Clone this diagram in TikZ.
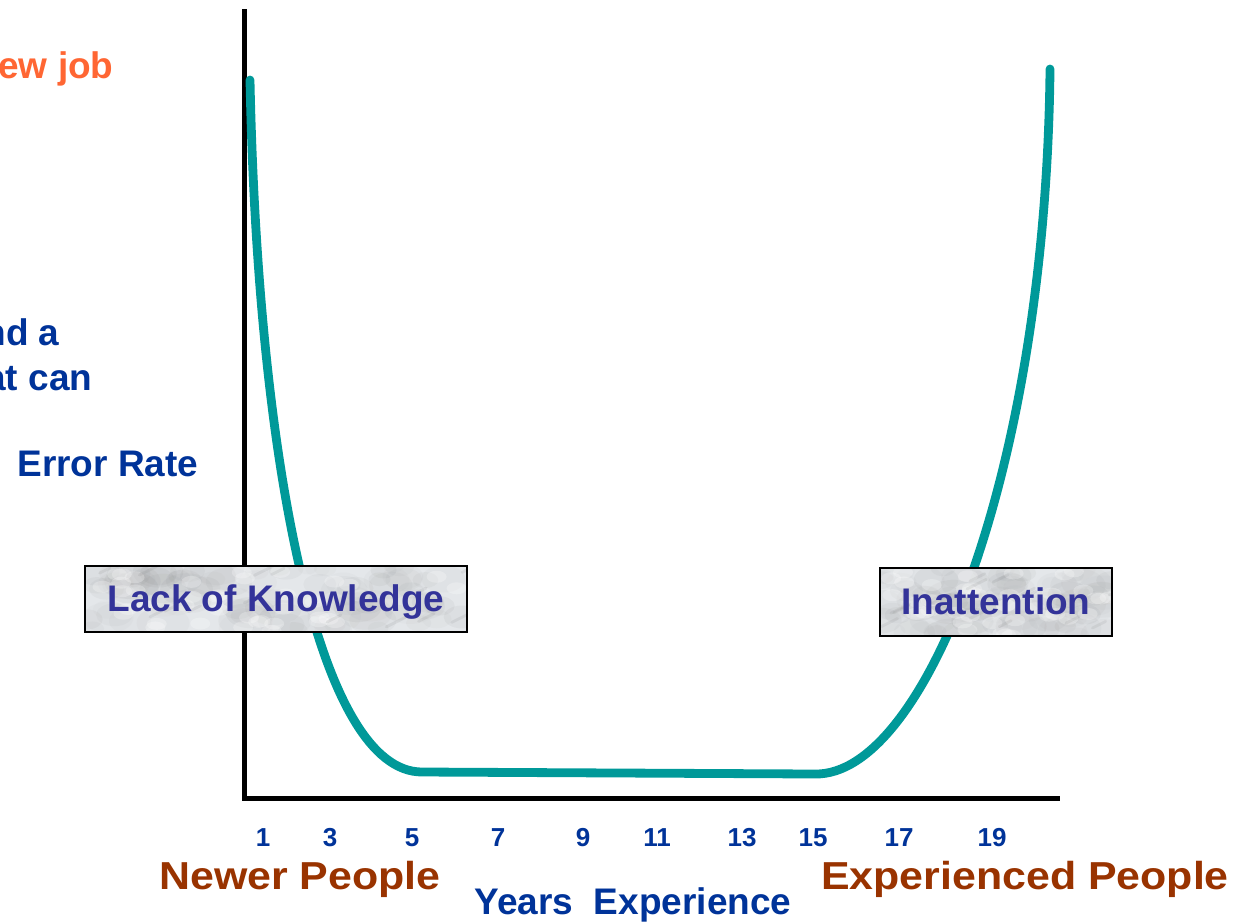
\documentclass[tikz,border=0pt]{standalone}
\usepackage{fontspec}
\setmainfont{Liberation Sans}
\usepackage{graphicx}
\usetikzlibrary{calc}
\definecolor{curveteal}{HTML}{009999}
\definecolor{joborange}{HTML}{FF6633}
\definecolor{labelblue}{HTML}{003399}
\definecolor{boxblue}{HTML}{333399}
\definecolor{peoplebrown}{HTML}{993300}
\definecolor{marblebase}{RGB}{228,231,234}
\begin{document}
\begin{tikzpicture}[x=0.5pt,y=-0.5pt,
  lbl/.style={font=\bfseries\fontsize{18.5pt}{22pt}\selectfont, text=labelblue, inner sep=0pt, anchor=base west},
  num/.style={font=\bfseries\fontsize{13pt}{15pt}\selectfont, text=labelblue, inner sep=0pt, anchor=base},
  people/.style={font=\bfseries\fontsize{19.5pt}{23pt}\selectfont, text=peoplebrown, inner sep=0pt, anchor=base},
  axisline/.style={line width=2.5pt, black},
  errcurve/.style={line width=4.4pt, curveteal, line cap=round, line join=round},
  tagbox/.style={draw=black, line width=1.4pt, fill=marblebase, inner sep=0pt,
    font=\bfseries\fontsize{18.5pt}{22pt}\selectfont, text=boxblue,
    text height=14pt, text depth=1.3pt,
    path picture={
      \foreach \k in {1,...,90}{
        \pgfmathsetmacro{\ux}{rnd}
        \pgfmathsetmacro{\uy}{rnd}
        \pgfmathsetmacro{\ur}{3+6*rnd}
        \pgfmathtruncatemacro{\ug}{30+40*rnd}
        \fill[black!\ug, opacity=0.05]
          let \p1=(path picture bounding box.south west), \p2=(path picture bounding box.north east) in
          ({\x1+\ux*(\x2-\x1)},{\y1+\uy*(\y2-\y1)}) ellipse[x radius=1.6*\ur pt, y radius=\ur pt];
      }
      \foreach \k in {1,...,40}{
        \pgfmathsetmacro{\ux}{rnd}
        \pgfmathsetmacro{\uy}{rnd}
        \fill[white, opacity=0.25]
          let \p1=(path picture bounding box.south west), \p2=(path picture bounding box.north east) in
          ({\x1+\ux*(\x2-\x1)},{\y1+\uy*(\y2-\y1)}) ellipse[x radius=5pt, y radius=3pt];
      }
      \foreach \k in {1,...,14}{
        \pgfmathsetmacro{\ux}{rnd}
        \pgfmathsetmacro{\uy}{rnd}
        \pgfmathsetmacro{\ul}{3+7*rnd}
        \draw[black!60, opacity=0.10, line width=1.4pt, line cap=round]
          let \p1=(path picture bounding box.south west), \p2=(path picture bounding box.north east) in
          ({\x1+\ux*(\x2-\x1)},{\y1+\uy*(\y2-\y1)}) -- ++({\ul*1pt},{0.5*\ul*1pt});
      }}}]
\pgfmathsetseed{7}
\useasboundingbox (0,0) rectangle (1240,921);

% axes
\coordinate (ytop) at (244,9);
\coordinate (origin) at (244,798.5);
\coordinate (xend) at (1060,798.5);
\draw[axisline] (ytop) -- (origin) -- (xend);

% error curve
\coordinate (cstart) at (250,80);
\coordinate (flatL) at (422,772);
\coordinate (flatR) at (815,774);
\coordinate (cend) at (1050,69);
\draw[errcurve] (cstart) .. controls (258,470) and (320,772) .. (flatL)
  -- (flatR) .. controls (925,776) and (1046,470) .. (cend);

% boxes
\node[tagbox, minimum width=191pt, minimum height=33pt] (knowledge) at (276,599) {Lack of Knowledge};
\node[tagbox, minimum width=116pt, minimum height=34pt] (inattention) at (996,602) {Inattention};

% left texts
\node[lbl, text=joborange] (job) at (-2,78) {ew job};
\node[lbl] (nda) at (-17,345) {nd a};
\node[lbl] (atcan) at (-15,390) {at can};
\node[lbl] (errrate) at (17,476) {Error Rate};

% year numbers
\node[num] (n1) at (263,846) {1};
\node[num] (n3) at (330,846) {3};
\node[num] (n5) at (412,846) {5};
\node[num] (n7) at (498,846) {7};
\node[num] (n9) at (583,846) {9};
\node[num] (n11) at (657,846) {11};
\node[num] (n13) at (742,846) {13};
\node[num] (n15) at (813,846) {15};
\node[num] (n17) at (899,846) {17};
\node[num] (n19) at (992,846) {19};

% bottom labels
\node[people] (newer) at (300,889) {\scalebox{1.1}[1]{Newer People}};
\node[people] (experienced) at (1025,889) {\scalebox{1.1}[1]{Experienced People}};
\node[lbl, anchor=base] (years) at (633,914) {Years\ \ Experience};
\end{tikzpicture}
\end{document}
